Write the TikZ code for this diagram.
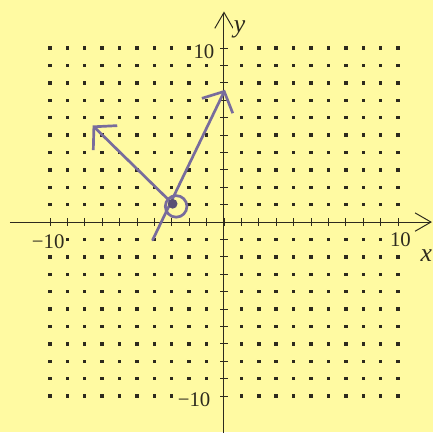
\documentclass[tikz,border=0pt]{standalone}
\usepackage{fontspec}
\setmainfont{Liberation Serif}
\usetikzlibrary{arrows.meta}
\definecolor{paper}{RGB}{255,250,162}
\definecolor{pen}{RGB}{120,108,156}
\definecolor{ink}{RGB}{45,42,30}
\begin{document}
\begin{tikzpicture}[
        x=0.5cm, y=0.5cm,
        axis/.style={draw=ink, line width=0.8pt, -{Straight Barb[length=13pt, width=15pt, line width=0.8pt]}},
        axtick/.style={draw=ink, line width=0.7pt},
        griddot/.style={fill=ink, rectangle, inner sep=0pt, minimum size=2.8pt},
        lab/.style={font=\fontsize{17}{20}\selectfont, text=ink, fill=paper, inner sep=0.5pt},
        penline/.style={draw=pen, line width=2.2pt, line cap=round},
        penarrow/.style={penline, -{Straight Barb[length=13pt, width=28pt, line width=2.2pt]}},
    ]
    \fill[paper] (-12.87,-12.07) rectangle (12.01,12.76);
    \useasboundingbox (-12.87,-12.07) rectangle (12.01,12.76);
    \foreach \i in {-10,-9,...,10}{
        \foreach \j in {-10,-9,...,10}{
            \ifnum\i=0 \else\ifnum\j=0 \else
                \node[griddot] at (\i,\j) {};
            \fi\fi
        }
    }
    \coordinate (xl) at (-12.3,0);
    \coordinate (xr) at (11.95,0);
    \coordinate (yb) at (0,-12.2);
    \coordinate (yt) at (0,12.1);
    \draw[axis] (xl) -- (xr);
    \draw[axis] (yb) -- (yt);
    \foreach \k in {-10,-9,...,10}{
        \draw[axtick] (\k,-0.22) -- (\k,0.22);
        \draw[axtick] (-0.22,\k) -- (0.22,\k);
    }
    \node[lab](xmin) at (-10.1,-1.15){−10};
    \node[lab](xmax) at (10.14,-1.0){10};
    \node[lab](ymax) at (-1.15,9.8){10};
    \node[lab](ymin) at (-1.72,-10.2){−10};
    \node[lab, font=\fontsize{21}{24}\selectfont\itshape](ylab) at (0.9,11.05){y};
    \node[lab, font=\fontsize{21}{24}\selectfont\itshape](xlab) at (11.62,-1.95){x};
    \coordinate (V) at (-2.95,1.05);
    \coordinate (A) at (-7.55,5.55);
    \coordinate (B0) at (-4.1,-1.03);
    \coordinate (B) at (0.06,7.6);
    \draw[penarrow] (V) -- (A);
    \draw[penarrow] (B0) -- (B);
    \fill[pen!75!black] (V) circle (0.28);
    \draw[penline] (-2.75,0.9) circle (0.62);
\end{tikzpicture}
\end{document}
